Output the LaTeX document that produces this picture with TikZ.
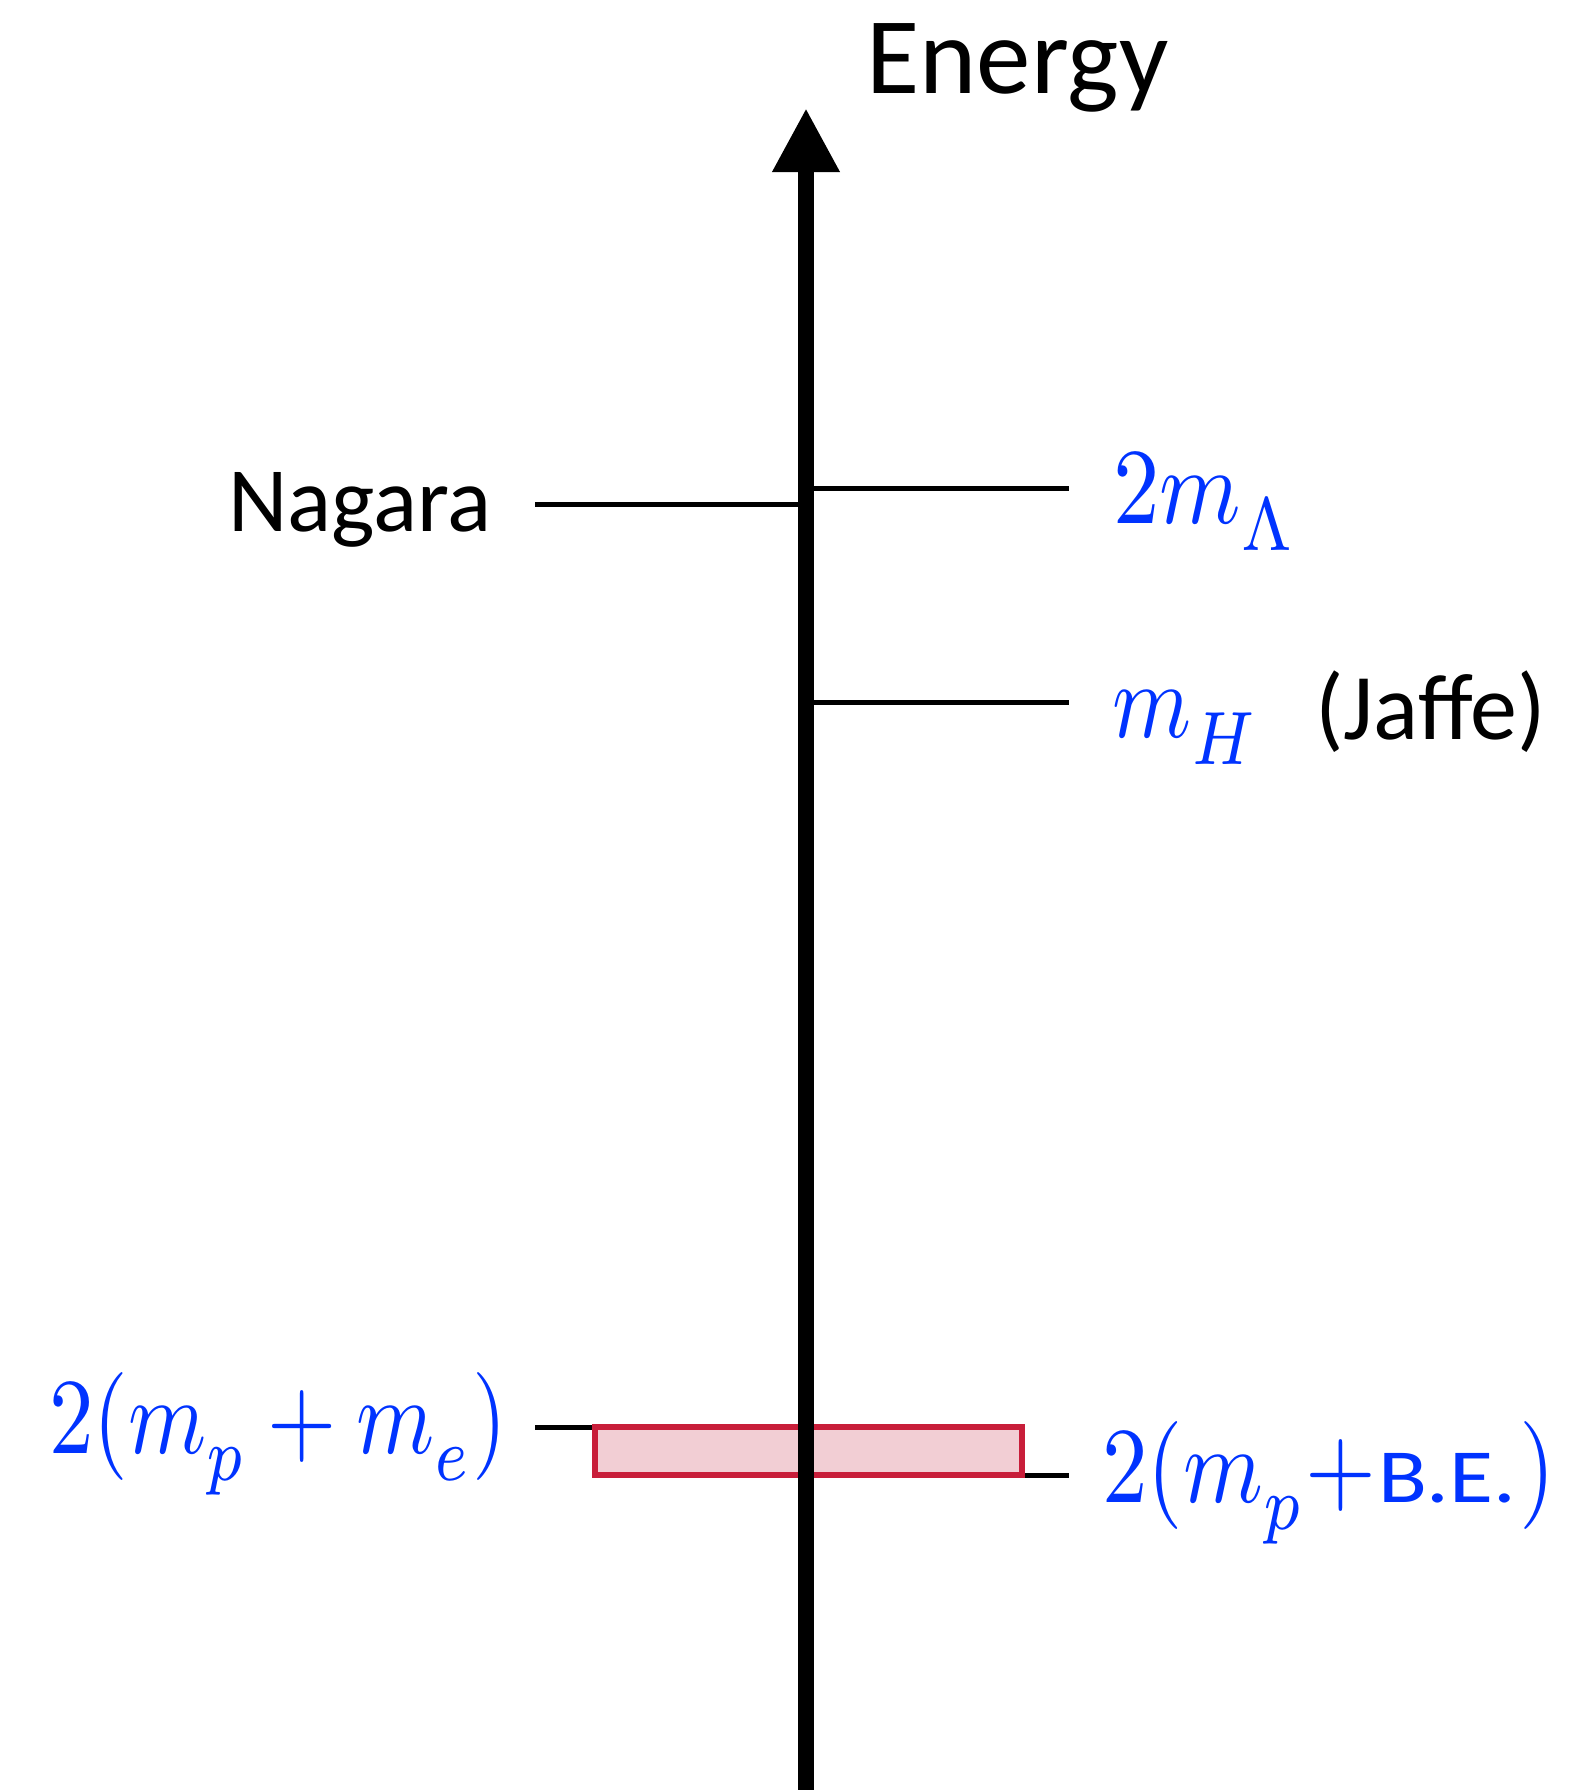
\documentclass[tikz,border=0pt]{standalone}
\usepackage{fontspec}
\usepackage{graphicx}
\usetikzlibrary{arrows.meta}
\newfontfamily\carlito{Carlito}
\definecolor{labblue}{RGB}{0,51,255}
\definecolor{boxred}{RGB}{200,30,58}
\definecolor{boxfill}{RGB}{242,206,212}
\newcommand\lsub[1]{_{\raisebox{-0.1em}{$\scriptstyle #1$}}}
\newcommand\bigmath[2][4.64]{\scalebox{#1}[5.4]{\fontsize{10}{12}\selectfont$#2$}}
\tikzset{
  axisline/.style={line width=8pt, -{Triangle[length=32pt,width=31.5pt]}},
  lvl/.style={line width=2.5pt},
  bandbox/.style={draw=boxred, fill=boxfill, line width=3pt, inner sep=0pt, outer sep=0pt, minimum width=213.5pt, minimum height=24pt},
  mathlab/.style={text=labblue, inner sep=0pt, anchor=base west},
  txtlab/.style={inner sep=0pt, anchor=base west, font=\fontsize{46}{52}\selectfont\carlito},
}
\begin{document}
\begin{tikzpicture}[x=0.5pt, y=-0.5pt]
\useasboundingbox (0,0) rectangle (1577,1790);
% coordinates
\coordinate (axbot) at (806,1790);
\coordinate (axtop) at (806,108);
\coordinate (nagL) at (535,504);
\coordinate (nagR) at (806,504);
\coordinate (lamL) at (806,488);
\coordinate (lamR) at (1069,488);
\coordinate (mhL) at (806,702);
\coordinate (mhR) at (1069,702);
\coordinate (peL) at (535,1427);
\coordinate (beR) at (1069,1475);
% band node (drawn later on top of its lines)
\path (808.5,1451) node[bandbox, draw=none, fill=none] (band) {};
% level lines
\draw[lvl] (nagL) -- (nagR);
\draw[lvl] (lamL) -- (lamR);
\draw[lvl] (mhL) -- (mhR);
\draw[lvl] (peL) -- (band.north west);
\draw[lvl] (band.south east) -- (beR);
% band
\node[bandbox] at (band.center) {};
% axis
\draw[axisline] (axbot) -- (axtop);
% labels
\node[txtlab, font=\fontsize{54.5}{60}\selectfont\carlito] (energy) at (866,93) {Energy};
\node[txtlab] (nagara) at (228,531) {Nagara};
\node[txtlab, font=\fontsize{47}{52}\selectfont\carlito] (jaffe) at (1315,739) {(Jaffe)};
\node[mathlab] (lam) at (1113,523) {\bigmath{2m\lsub{\Lambda}}};
\node[mathlab] (mh) at (1112,737) {\bigmath[4.5]{m\lsub{H}}};
\node[mathlab] (pe) at (49,1453) {\bigmath[4.45]{2(m\lsub{p} + m\lsub{e})}};
\node[mathlab] (be) at (1102,1502) {\bigmath[4.55]{2(m\lsub{p}{+}}\kern1pt\scalebox{1}[0.85]{\fontsize{45}{50}\selectfont\carlito B.E.}\kern1.5pt\bigmath{)}};
\end{tikzpicture}
\end{document}
